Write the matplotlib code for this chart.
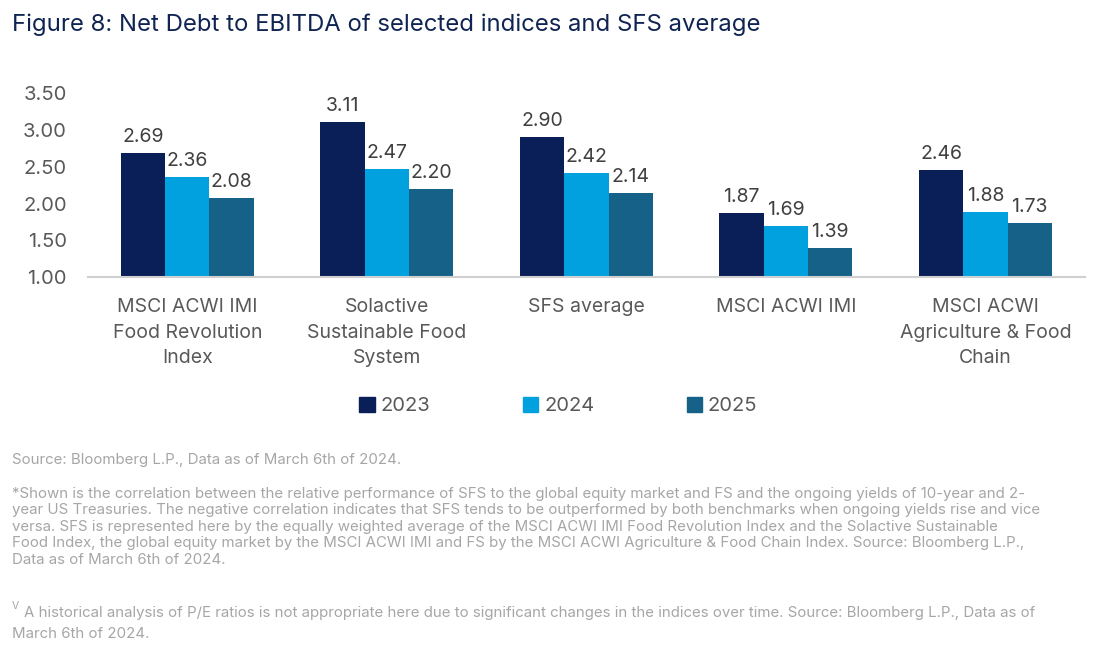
import matplotlib
matplotlib.use("Agg")
import matplotlib.pyplot as plt
import numpy as np
from matplotlib.patches import Rectangle

categories = ["MSCI ACWI IMI\nFood Revolution\nIndex", "Solactive\nSustainable Food\nSystem",
              "SFS average", "MSCI ACWI IMI", "MSCI ACWI\nAgriculture & Food\nChain"]
years = ["2023", "2024", "2025"]
v2023 = [2.69, 3.11, 2.90, 1.87, 2.46]
v2024 = [2.36, 2.47, 2.42, 1.69, 1.88]
v2025 = [2.08, 2.20, 2.14, 1.39, 1.73]
yticks = [1.00, 1.50, 2.00, 2.50, 3.00, 3.50]

colors = ["#0a1e58", "#00a1de", "#156187"]
tick_color = "#595959"
foot_color = "#a6a6a6"
title_color = "#0f2452"
font = "Inter"
plt.rcParams["font.family"] = [font, "DejaVu Sans"]

fig = plt.figure(figsize=(10.95, 6.52), dpi=100)
ax = fig.add_axes([0.080, 0.575, 0.911, 0.282])

x = np.arange(len(categories))
w = 0.222
series = [v2023, v2024, v2025]
for i, vals in enumerate(series):
    xs = x + (i - 1) * w
    ax.bar(xs, np.array(vals) - 1.0, w, bottom=1.0, color=colors[i], label=years[i])
    for xi, v in zip(xs, vals):
        ax.annotate(f"{v:.2f}", (xi, v), xytext=(0, 5), textcoords="offset points",
                    ha="center", va="bottom", fontsize=14, color="#404040", clip_on=False)

ax.set_xlim(-0.5, 4.5)
ax.set_ylim(1.0, 3.5)
ax.set_yticks(yticks)
ax.set_yticklabels([f"{t:.2f}" for t in yticks], fontsize=14.5, color=tick_color)
ax.set_xticks(x)
ax.set_xticklabels(categories, fontsize=14, color=tick_color, linespacing=1.55)
ax.tick_params(axis="both", length=0)
ax.tick_params(axis="y", pad=15)
ax.tick_params(axis="x", pad=15)
for s in ["top", "right", "left"]:
    ax.spines[s].set_visible(False)
ax.spines["bottom"].set_color("#d0d0d0")
ax.spines["bottom"].set_linewidth(1.5)

fig.legend(handles=[Rectangle((0, 0), 1, 1, color=c) for c in colors], labels=years,
           loc="center", bbox_to_anchor=(0.510, 0.377), ncol=3, frameon=False,
           fontsize=14.5, handlelength=0.75, handleheight=0.75, handletextpad=0.3,
           columnspacing=4.6, labelcolor=tick_color)

fig.text(0.011, 0.962, "Figure 8: Net Debt to EBITDA of selected indices and SFS average",
         fontsize=17.2, color=title_color, va="center", ha="left")

fs = 10.8
fig.text(0.011, 1 - 460 / 652, "Source: Bloomberg L.P., Data as of March 6th of 2024.",
         fontsize=fs, color=foot_color, va="center")
foot = ("*Shown is the correlation between the relative performance of SFS to the global equity market and FS and the ongoing yields of 10-year and 2-\n"
        "year US Treasuries. The negative correlation indicates that SFS tends to be outperformed by both benchmarks when ongoing yields rise and vice\n"
        "versa. SFS is represented here by the equally weighted average of the MSCI ACWI IMI Food Revolution Index and the Solactive Sustainable\n"
        "Food Index, the global equity market by the MSCI ACWI IMI and FS by the MSCI ACWI Agriculture & Food Chain Index. Source: Bloomberg L.P.,\n"
        "Data as of March 6th of 2024.")
fig.text(0.011, 1 - 487 / 652, foot, fontsize=fs, color=foot_color, va="top", linespacing=1.22)
fig.text(0.011, 1 - 606 / 652, "V", fontsize=7.5, color=foot_color, va="center")
fig.text(0.022, 1 - 613 / 652,
         "A historical analysis of P/E ratios is not appropriate here due to significant changes in the indices over time. Source: Bloomberg L.P., Data as of",
         fontsize=fs, color=foot_color, va="center")
fig.text(0.011, 1 - 634 / 652, "March 6th of 2024.", fontsize=fs, color=foot_color, va="center")

fig.savefig("out.png", dpi=100, facecolor="white")
